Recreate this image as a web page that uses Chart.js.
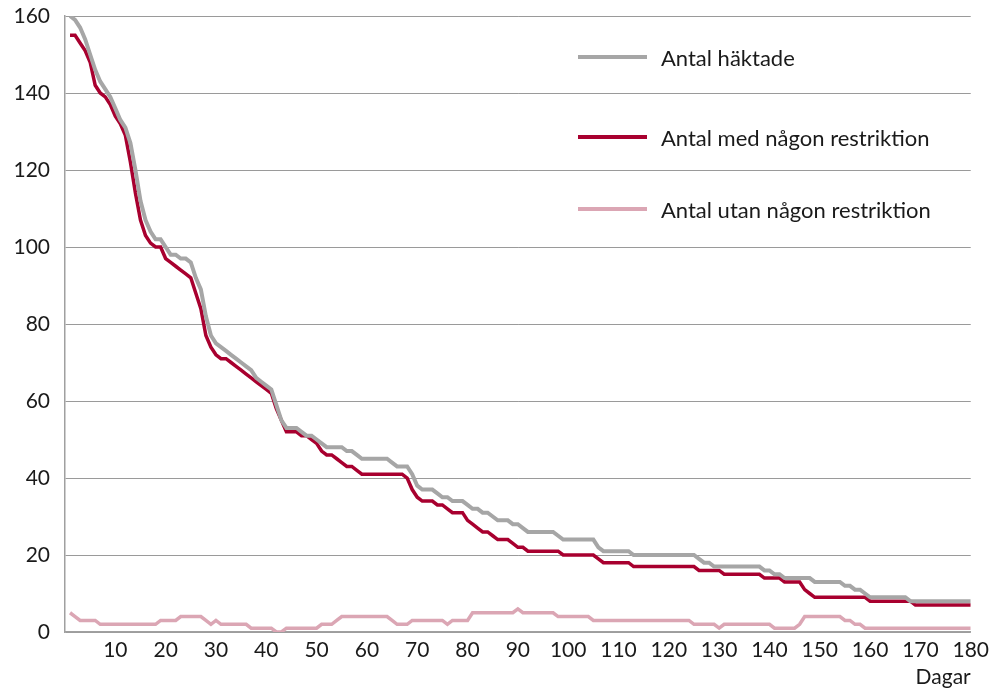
<!DOCTYPE html>
<html lang="sv">
<head>
<meta charset="utf-8">
<title>Antal häktade</title>
<script src="https://cdn.jsdelivr.net/npm/chart.js@4.4.1/dist/chart.umd.min.js"></script>
<style>
  body { margin: 0; background: #fff; }
  .wrap { position: relative; width: 995px; height: 690px; }
  .legend { position: absolute; left: 578px; top: 0; font-family: Lato, "Open Sans", sans-serif; font-size: 22px; color: #1a1a1a; }
  .legend-item { position: absolute; left: 0; display: flex; align-items: center; white-space: nowrap; }
  .legend-item .swatch { width: 69px; height: 4px; margin-right: 14px; }
</style>
</head>
<body>
<div class="wrap">
  <canvas id="chart" width="995" height="690"></canvas>
  <div class="legend" id="legend"></div>
</div>
<script>
// Dagar 1..180
const days = Array.from({ length: 180 }, (_, i) => i + 1);

const seriesNames = ['Antal häktade', 'Antal med någon restriktion', 'Antal utan någon restriktion'];
const seriesColors = ['#a6a6a6', '#a8002f', '#dba6b4'];

const haktade = [
  160,159,157,154,150,146,143,141,139,136,
  133,131,127,120,112,107,104,102,102,100,
  98,98,97,97,96,92,89,82,77,75,
  74,73,72,71,70,69,68,66,65,64,
  63,59,55,53,53,53,52,51,51,50,
  49,48,48,48,48,47,47,46,45,45,
  45,45,45,45,44,43,43,43,41,38,
  37,37,37,36,35,35,34,34,34,33,
  32,32,31,31,30,29,29,29,28,28,
  27,26,26,26,26,26,26,25,24,24,
  24,24,24,24,24,22,21,21,21,21,
  21,21,20,20,20,20,20,20,20,20,
  20,20,20,20,20,19,18,18,17,17,
  17,17,17,17,17,17,17,17,16,16,
  15,15,14,14,14,14,14,14,13,13,
  13,13,13,13,12,12,11,11,10,9,
  9,9,9,9,9,9,9,8,8,8,
  8,8,8,8,8,8,8,8,8,8
];

const medRestriktion = [
  155,155,153,151,148,142,140,139,137,134,
  132,129,122,114,107,103,101,100,100,97,
  96,95,94,93,92,88,84,77,74,72,
  71,71,70,69,68,67,66,65,64,63,
  62,58,55,52,52,52,51,51,50,49,
  47,46,46,45,44,43,43,42,41,41,
  41,41,41,41,41,41,41,40,37,35,
  34,34,34,33,33,32,31,31,31,29,
  28,27,26,26,25,24,24,24,23,22,
  22,21,21,21,21,21,21,21,20,20,
  20,20,20,20,20,19,18,18,18,18,
  18,18,17,17,17,17,17,17,17,17,
  17,17,17,17,17,16,16,16,16,16,
  15,15,15,15,15,15,15,15,14,14,
  14,14,13,13,13,13,11,10,9,9,
  9,9,9,9,9,9,9,9,9,8,
  8,8,8,8,8,8,8,8,7,7,
  7,7,7,7,7,7,7,7,7,7
];

const utanRestriktion = [
  5,4,3,3,3,3,2,2,2,2,
  2,2,2,2,2,2,2,2,3,3,
  3,3,4,4,4,4,4,3,2,3,
  2,2,2,2,2,2,1,1,1,1,
  1,0,0,1,1,1,1,1,1,1,
  2,2,2,3,4,4,4,4,4,4,
  4,4,4,4,3,2,2,2,3,3,
  3,3,3,3,3,2,3,3,3,3,
  5,5,5,5,5,5,5,5,5,6,
  5,5,5,5,5,5,5,4,4,4,
  4,4,4,4,3,3,3,3,3,3,
  3,3,3,3,3,3,3,3,3,3,
  3,3,3,3,2,2,2,2,2,1,
  2,2,2,2,2,2,2,2,2,2,
  1,1,1,1,1,2,4,4,4,4,
  4,4,4,4,3,3,2,2,1,1,
  1,1,1,1,1,1,1,1,1,1,
  1,1,1,1,1,1,1,1,1,1
];

const yTicks = [0, 20, 40, 60, 80, 100, 120, 140, 160];
const xTicks = [10, 20, 30, 40, 50, 60, 70, 80, 90, 100, 110, 120, 130, 140, 150, 160, 170, 180];

const fontFamily = 'Lato, "Open Sans", sans-serif';
const textColor = '#1a1a1a';

function toPoints(values) {
  return values.map((v, i) => ({ x: days[i], y: v }));
}

const allSeries = [haktade, medRestriktion, utanRestriktion];
const lineWidths = [4, 3.5, 3.5];

const datasets = allSeries.map((values, i) => ({
  label: seriesNames[i],
  data: toPoints(values),
  borderColor: seriesColors[i],
  backgroundColor: seriesColors[i],
  borderWidth: lineWidths[i],
  pointRadius: 0,
  tension: 0,
  fill: false,
  borderJoinStyle: 'miter',
  borderCapStyle: 'butt'
}));

const ctx = document.getElementById('chart').getContext('2d');
new Chart(ctx, {
  type: 'line',
  data: { datasets: datasets },
  options: {
    responsive: false,
    animation: false,
    devicePixelRatio: 1,
    layout: { padding: { top: 16, right: 24, bottom: 0, left: 0 } },
    plugins: {
      legend: { display: false },
      tooltip: { enabled: false }
    },
    scales: {
      x: {
        type: 'linear',
        min: 0,
        max: 180,
        afterBuildTicks: function(scale) {
          scale.ticks = xTicks.map(v => ({ value: v }));
        },
        afterFit: function(scale) { scale.height = 58; },
        grid: { display: false, drawTicks: false },
        border: { display: true, color: '#a0a0a0', width: 1.5 },
        ticks: {
          padding: 6,
          maxRotation: 0,
          autoSkip: false,
          color: textColor,
          font: { family: fontFamily, size: 21 }
        },
        title: {
          display: true,
          text: 'Dagar',
          align: 'end',
          color: textColor,
          font: { family: fontFamily, size: 21 },
          padding: { top: 0, bottom: 0 }
        }
      },
      y: {
        min: 0,
        max: 160,
        afterBuildTicks: function(scale) {
          scale.ticks = yTicks.map(v => ({ value: v }));
        },
        afterFit: function(scale) {
          // keep the plot area fixed, labels may overhang
          scale.width = 65;
          scale.paddingTop = 0;
          scale.paddingBottom = 0;
        },
        grid: { color: '#9a9a9a', lineWidth: 1, drawTicks: false },
        border: { display: true, color: '#a0a0a0', width: 1.5 },
        ticks: {
          padding: 15,
          color: textColor,
          font: { family: fontFamily, size: 21 }
        }
      }
    }
  }
});

// Legend inside the plot, top right
const legendEl = document.getElementById('legend');
const legendRows = [57, 137, 209];
seriesNames.forEach((name, i) => {
  const item = document.createElement('div');
  item.className = 'legend-item';
  item.style.top = (legendRows[i] - 14) + 'px';
  item.style.height = '28px';
  item.innerHTML = `<span class="swatch" style="background:${seriesColors[i]}"></span><span>${name}</span>`;
  legendEl.appendChild(item);
});
</script>
</body>
</html>
